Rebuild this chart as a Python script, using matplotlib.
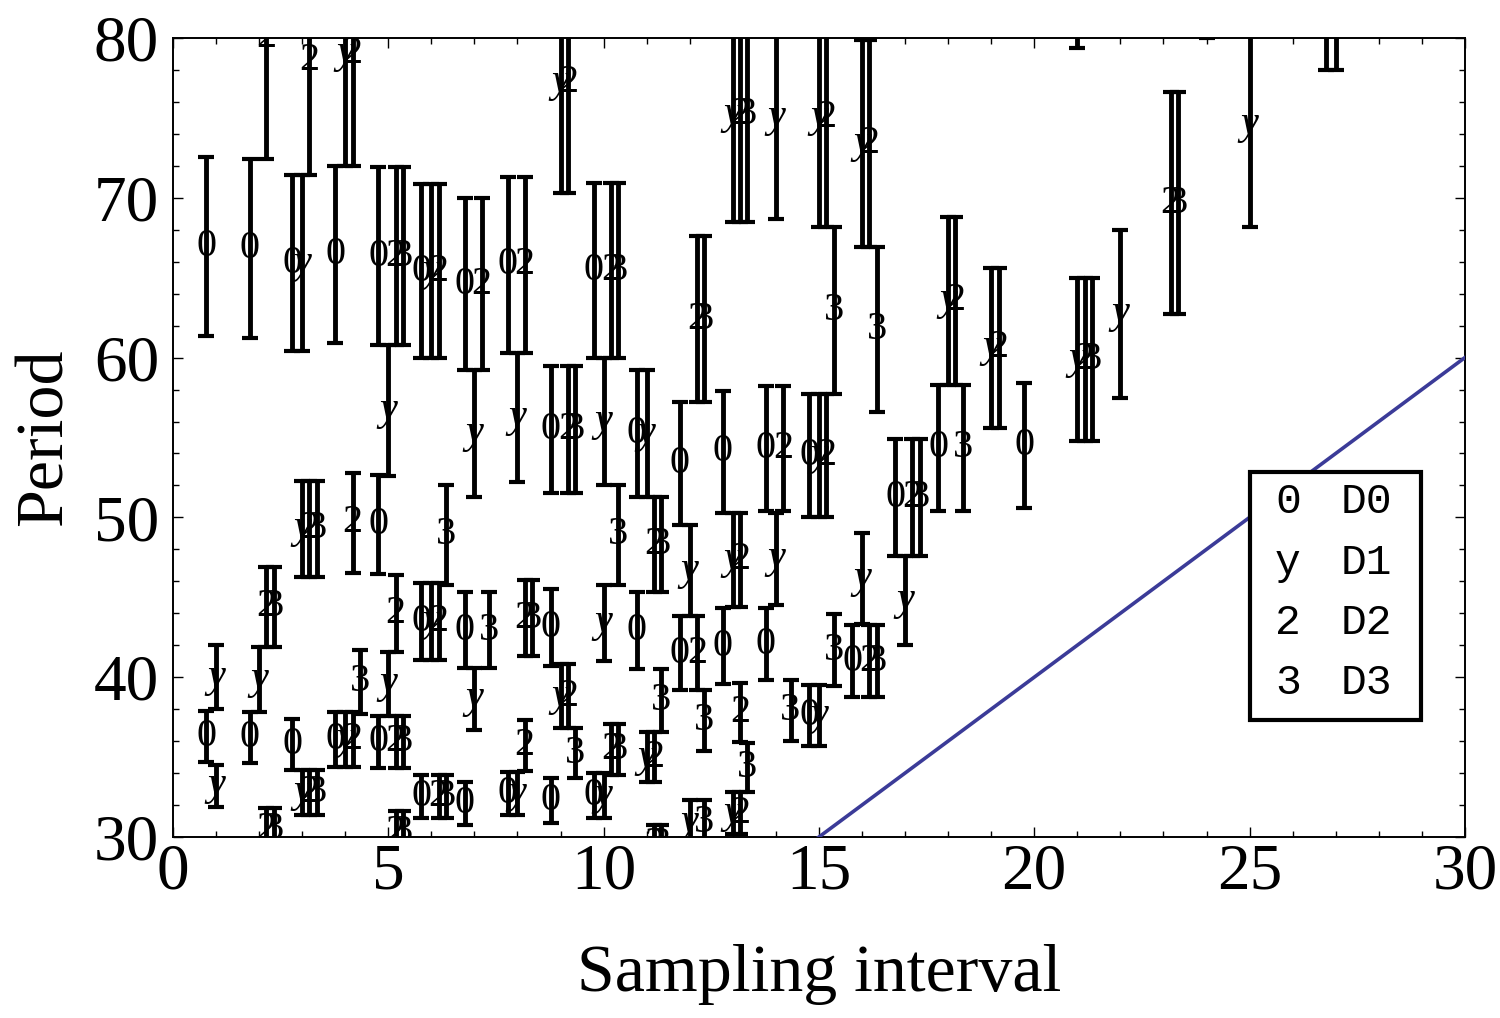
import matplotlib
matplotlib.use('Agg')
import matplotlib.pyplot as plt
from matplotlib.patches import Rectangle
from matplotlib.ticker import MultipleLocator

# period estimates (centre, half-width of error bar) per sampling interval
d0_x = [0.77, 0.77, 1.78, 1.78, 2.77, 2.77, 3.77, 3.77, 4.77, 4.77, 4.77,
        5.77, 5.77, 5.77, 6.77, 6.77, 6.77, 7.77, 7.77, 8.77, 8.77, 8.77,
        9.77, 9.77, 10.77, 10.77, 11.77, 11.77, 12.77, 12.77, 13.77, 13.77,
        14.77, 14.77, 15.77, 16.77, 17.77, 19.77, 26.77]
d0_y = [66.95, 36.3, 66.8, 36.2, 65.9, 35.8, 66.45, 36.1, 66.35, 49.55, 35.95,
        65.4, 43.5, 32.55, 64.6, 42.95, 32.1, 65.8, 32.7, 55.5, 43.1, 32.3,
        65.45, 32.6, 55.25, 42.9, 53.35, 41.5, 54.1, 41.95, 54.3, 42.05,
        53.85, 37.6, 41.0, 51.25, 54.35, 54.5, 85.5]
d0_e = [5.6, 1.6, 5.6, 1.6, 5.5, 1.6, 5.55, 1.7, 5.55, 3.1, 1.65,
        5.45, 2.4, 1.35, 5.4, 2.35, 1.35, 5.5, 1.35, 4.0, 2.4, 1.4,
        5.45, 1.4, 3.95, 2.4, 3.85, 2.3, 3.8, 2.35, 3.9, 2.25,
        3.85, 1.9, 2.25, 3.65, 3.95, 3.9, 7.5]

d1_x = [1.0, 1.0, 2.0, 3.0, 3.0, 3.0, 4.0, 4.0, 5.0, 5.0, 6.0, 6.0, 7.0, 7.0,
        8.0, 8.0, 9.0, 9.0, 10.0, 10.0, 10.0, 11.0, 11.0, 12.0, 12.0,
        13.0, 13.0, 13.0, 14.0, 14.0, 15.0, 15.0, 15.0, 16.0, 16.0, 17.0,
        18.0, 19.0, 21.0, 21.0, 22.0, 24.0, 25.0, 27.0]
d1_y = [40.0, 33.2, 39.85, 65.9, 49.3, 32.8, 79.0, 36.1, 56.7, 39.6, 65.4, 43.5,
        55.25, 38.65, 56.25, 32.7, 77.2, 38.8, 56.0, 43.4, 32.6, 55.25, 35.0,
        46.65, 30.9, 75.2, 47.35, 31.5, 75.05, 47.4, 75.05, 53.85, 37.6,
        73.4, 46.15, 44.8, 63.55, 60.6, 59.9, 86.5, 62.75, 87.0, 74.6, 85.5]
d1_e = [2.0, 1.3, 2.05, 5.5, 3.0, 1.4, 7.0, 1.7, 4.1, 2.0, 5.45, 2.4,
        3.95, 1.95, 4.05, 1.35, 6.9, 2.0, 4.0, 2.4, 1.4, 3.95, 1.55,
        2.85, 1.4, 6.7, 2.95, 1.3, 6.35, 2.9, 6.85, 3.85, 1.9,
        6.5, 2.85, 2.8, 5.25, 5.0, 5.1, 7.1, 5.25, 7.0, 6.4, 7.5]

d2_x = [2.17, 2.17, 2.17, 3.17, 3.17, 3.17, 4.17, 4.17, 4.17, 5.17, 5.17, 5.17,
        5.17, 6.17, 6.17, 6.17, 7.17, 8.17, 8.17, 8.17, 9.17, 9.17, 9.17,
        10.17, 10.17, 11.17, 11.17, 11.17, 12.17, 12.17, 13.17, 13.17, 13.17,
        13.17, 14.17, 15.17, 15.17, 16.17, 16.17, 17.17, 18.17, 19.17, 21.17,
        23.17]
d2_y = [80.0, 44.4, 30.5, 78.6, 49.3, 32.8, 79.0, 49.65, 36.1, 66.35, 44.0, 35.95,
        30.3, 65.4, 43.5, 32.55, 64.6, 65.8, 43.7, 35.7, 77.2, 55.5, 38.8,
        65.45, 35.5, 48.3, 35.0, 29.5, 62.4, 41.5, 75.2, 47.35, 37.8,
        31.5, 54.3, 75.05, 53.85, 73.4, 41.0, 51.25, 63.55, 60.6, 59.9,
        69.65]
d2_e = [7.6, 2.5, 1.3, 7.2, 3.0, 1.4, 7.0, 3.15, 1.7, 5.55, 2.4, 1.65,
        1.3, 5.45, 2.4, 1.35, 5.4, 5.5, 2.4, 1.6, 6.9, 4.0, 2.0,
        5.45, 1.6, 3.0, 1.55, 1.25, 5.2, 2.3, 6.7, 2.95, 1.85,
        1.3, 3.9, 6.85, 3.85, 6.5, 2.25, 3.65, 5.25, 5.0, 5.1,
        6.95]

d3_x = [2.34, 2.34, 3.34, 3.34, 4.34, 5.34, 5.34, 5.34, 6.34, 6.34, 7.34, 8.34,
        9.34, 9.34, 10.34, 10.34, 10.34, 11.34, 11.34, 11.34, 12.34, 12.34,
        12.34, 13.34, 13.34, 14.34, 15.34, 15.34, 16.34, 16.34, 17.34, 18.34,
        21.34, 23.34]
d3_y = [44.4, 30.5, 49.3, 32.8, 39.7, 66.35, 35.95, 30.3, 48.9, 32.55, 42.95, 43.7,
        55.5, 35.25, 65.45, 48.9, 35.5, 48.3, 38.55, 29.5, 62.4, 37.3,
        30.9, 75.2, 34.35, 37.9, 62.95, 41.7, 61.75, 41.0, 51.25, 54.35,
        59.9, 69.65]
d3_e = [2.5, 1.3, 3.0, 1.4, 2.0, 5.55, 1.65, 1.3, 3.1, 1.35, 2.35, 2.4,
        4.0, 1.55, 5.45, 3.1, 1.6, 3.0, 1.95, 1.25, 5.2, 1.9,
        1.4, 6.7, 1.55, 1.9, 5.25, 2.25, 5.15, 2.25, 3.65, 3.95,
        5.1, 6.95]

symbols = ['0', 'y', '2', '3']
names = ['D0', 'D1', 'D2', 'D3']

# reference line: period = 2 x sampling interval
ref_x = [0, 30]
ref_y = [0, 60]

SERIF = 'Liberation Serif'
MONO = 'Liberation Mono'
XMIN, XMAX, YMIN, YMAX = 0, 30, 30, 80

fig = plt.figure(figsize=(15, 10.18), dpi=100)
ax = fig.add_axes([0.1153, 0.1778, 0.8613, 0.7849])

series = [(d0_x, d0_y, d0_e), (d1_x, d1_y, d1_e),
          (d2_x, d2_y, d2_e), (d3_x, d3_y, d3_e)]
for (xs, ys, es), sym in zip(series, symbols):
    ax.errorbar(xs, ys, yerr=es, fmt='none', ecolor='black', elinewidth=3.5,
                capsize=5.8, capthick=3.0, zorder=2)
    style = 'italic' if sym == 'y' else 'normal'
    for x, y in zip(xs, ys):
        # symbols whose centre is off the plotted range are clipped away anyway
        if not (YMIN - 0.6 <= y <= YMAX + 0.6):
            continue
        ax.text(x, y, sym, fontsize=29, family=SERIF, style=style,
                ha='center', va='center', clip_on=True, zorder=3)

ax.plot(ref_x, ref_y, color='#3b3b98', lw=2.6, zorder=4)

ax.set_xlim(XMIN, XMAX)
ax.set_ylim(YMIN, YMAX)
ax.xaxis.set_major_locator(MultipleLocator(5))
ax.xaxis.set_minor_locator(MultipleLocator(1))
ax.yaxis.set_major_locator(MultipleLocator(10))
ax.yaxis.set_minor_locator(MultipleLocator(2))
ax.tick_params(which='both', direction='in', top=True, right=True, width=1)
ax.tick_params(which='major', length=7)
ax.tick_params(which='minor', length=4)
ax.tick_params(axis='x', pad=4)
ax.tick_params(axis='y', pad=10)
for lab in ax.get_xticklabels() + ax.get_yticklabels():
    lab.set_fontfamily(SERIF)
    lab.set_fontsize(47)
for sp in ax.spines.values():
    sp.set_linewidth(1.4)

ax.set_xlabel('Sampling interval', fontsize=49, family=SERIF, labelpad=30)
ax.set_ylabel('Period', fontsize=49, family=SERIF, labelpad=13)

# boxed key in the lower right
ax.add_patch(Rectangle((0.8336, 0.1464), 0.1324, 0.3104, transform=ax.transAxes,
                       facecolor='white', edgecolor='black', lw=3, zorder=5))
row_y = [0.419, 0.343, 0.268, 0.193]
for sym, name, ry in zip(symbols, names, row_y):
    ax.text(0.863, ry, sym, transform=ax.transAxes, fontsize=31, family=MONO,
            ha='center', va='center', zorder=6)
    ax.text(0.924, ry, name, transform=ax.transAxes, fontsize=31, family=MONO,
            ha='center', va='center', zorder=6)

fig.savefig('out.png', dpi=100)
